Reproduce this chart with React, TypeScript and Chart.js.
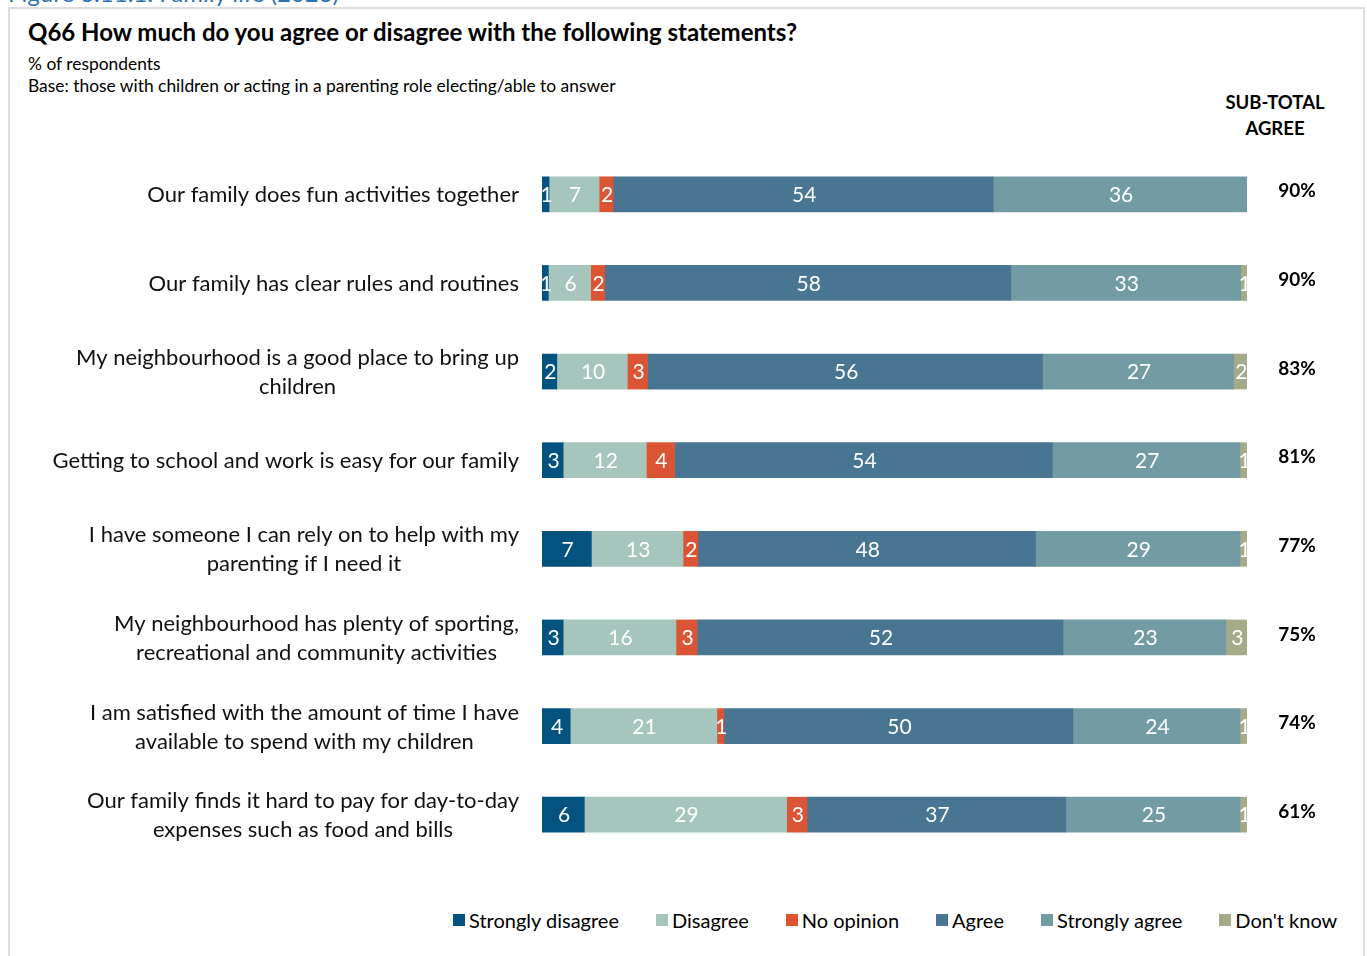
import React, { useEffect, useRef } from "react";
import { Chart, registerables } from "chart.js";

Chart.register(...registerables);

const categories: string[][] = [
  ["Our family does fun activities together"],
  ["Our family has clear rules and routines"],
  ["My neighbourhood is a good place to bring up", "children"],
  ["Getting to school and work is easy for our family"],
  ["I have someone I can rely on to help with my", "parenting if I need it"],
  ["My neighbourhood has plenty of sporting,", "recreational and community activities"],
  ["I am satisfied with the amount of time I have", "available to spend with my children"],
  ["Our family finds it hard to pay for day-to-day", "expenses such as food and bills"],
];

const seriesNames = ["Strongly disagree", "Disagree", "No opinion", "Agree", "Strongly agree", "Don't know"];
const seriesColors = ["#03527f", "#a5c5bd", "#db5535", "#487591", "#739ba3", "#a4ab88"];

const stronglyDisagree = [1.0, 0.9, 2.1, 3.0, 7.0, 3.0, 4.0, 6.0];
const disagree = [7.1, 6.0, 10.0, 11.8, 13.0, 16.0, 20.8, 28.7];
const noOpinion = [2.0, 2.0, 2.9, 4.0, 2.1, 3.0, 1.0, 2.9];
const agree = [53.9, 57.6, 56.0, 53.6, 47.9, 51.9, 49.5, 36.7];
const stronglyAgree = [36.0, 32.6, 27.1, 26.6, 29.0, 23.1, 23.7, 24.7];
const dontKnow = [0, 0.9, 1.9, 1.0, 1.0, 3.0, 1.0, 1.0];

const subTotalAgree = ["90%", "90%", "83%", "81%", "77%", "75%", "74%", "61%"];

const FONT = "Lato, 'Noto Sans', sans-serif";

const labelPlugin = {
  id: "customLabels",
  afterDatasetsDraw(chart: any) {
    const ctx = chart.ctx;
    const area = chart.chartArea;
    const yScale = chart.scales.y;
    ctx.save();
    // values inside segments
    ctx.font = `21px ${FONT}`;
    ctx.fillStyle = "#ffffff";
    ctx.textAlign = "center";
    ctx.textBaseline = "middle";
    chart.data.datasets.forEach((ds: any, di: number) => {
      const meta = chart.getDatasetMeta(di);
      meta.data.forEach((bar: any, i: number) => {
        const v = ds.data[i];
        if (!v) return;
        const p = bar.getProps(["x", "y", "base"], true);
        ctx.fillText(String(Math.round(v)), (p.x + p.base) / 2 + 1, p.y + 1);
      });
    });
    // category labels
    ctx.fillStyle = "#111111";
    ctx.font = `22px ${FONT}`;
    const rightEdge = area.left - 23;
    const lineH = 29;
    categories.forEach((lines, i) => {
      const cy = yScale.getPixelForValue(i);
      if (lines.length === 1) {
        ctx.textAlign = "right";
        ctx.fillText(lines[0], rightEdge, cy + 1);
      } else {
        const maxW = Math.max(...lines.map((l) => ctx.measureText(l).width));
        const cx = rightEdge - maxW / 2;
        ctx.textAlign = "center";
        lines.forEach((l, k) => {
          ctx.fillText(l, cx, cy + 1 + (k - (lines.length - 1) / 2) * lineH);
        });
      }
    });
    // sub-total labels
    ctx.font = `bold 19px ${FONT}`;
    ctx.fillStyle = "#000000";
    ctx.textAlign = "center";
    subTotalAgree.forEach((t, i) => {
      const cy = yScale.getPixelForValue(i);
      ctx.fillText(t, area.right + 50, cy - 3);
    });
    ctx.restore();
  },
};

export default function App() {
  const canvasRef = useRef<HTMLCanvasElement | null>(null);

  useEffect(() => {
    if (!canvasRef.current) return;
    const dataArrays = [stronglyDisagree, disagree, noOpinion, agree, stronglyAgree, dontKnow];
    const chart = new Chart(canvasRef.current, {
      type: "bar",
      data: {
        labels: categories.map((c) => c.join(" ")),
        datasets: dataArrays.map((d, i) => ({
          label: seriesNames[i],
          data: d,
          backgroundColor: seriesColors[i],
          borderWidth: 0,
          barThickness: 35,
        })),
      },
      options: {
        indexAxis: "y",
        responsive: false,
        animation: false,
        layout: { padding: { left: 542, right: 120, top: 10, bottom: 21 } },
        scales: {
          x: { stacked: true, min: 0, max: 100, display: false },
          y: { stacked: true, display: false },
        },
        plugins: {
          legend: { display: false },
          tooltip: { enabled: false },
          title: { display: false },
        },
      },
      plugins: [labelPlugin],
    });
    return () => chart.destroy();
  }, []);

  return (
    <div
      style={{
        position: "absolute",
        left: 0,
        top: 0,
        width: 1367,
        height: 956,
        overflow: "hidden",
        background: "#ffffff",
        fontFamily: FONT,
        color: "#000",
      }}
    >
      <div style={{ position: "absolute", left: 8, top: -22, fontSize: 24, color: "#2e74b5", whiteSpace: "nowrap" }}>
        Figure 3.11.1: Family life (2023)
      </div>
      <div
        style={{
          position: "absolute",
          left: 8,
          top: 7,
          width: 1357,
          height: 1000,
          boxSizing: "border-box",
          border: "2px solid #dddddd",
          background: "#ffffff",
        }}
      />
      <div style={{ position: "absolute", left: 28, top: 17, fontSize: 24, fontWeight: "bold", whiteSpace: "nowrap" }}>
        Q66 How much do you agree or disagree with the following statements?
      </div>
      <div style={{ position: "absolute", left: 28, top: 53, fontSize: 17.4, whiteSpace: "nowrap" }}>% of respondents</div>
      <div style={{ position: "absolute", left: 28, top: 75, fontSize: 17.4, whiteSpace: "nowrap" }}>
        Base: those with children or acting in a parenting role electing/able to answer
      </div>
      <div
        style={{
          position: "absolute",
          left: 1215,
          top: 89,
          width: 120,
          textAlign: "center",
          fontSize: 18.5,
          fontWeight: "bold",
          lineHeight: "26px",
        }}
      >
        SUB-TOTAL
        <br />
        AGREE
      </div>
      <canvas ref={canvasRef} width={1367} height={740} style={{ position: "absolute", left: 0, top: 140 }} />
      <div
        style={{
          position: "absolute",
          left: 453,
          top: 908,
          display: "flex",
          alignItems: "center",
          gap: 37,
          fontSize: 20,
          whiteSpace: "nowrap",
        }}
      >
        {seriesNames.map((n, i) => (
          <div key={n} style={{ display: "flex", alignItems: "center" }}>
            <span style={{ display: "inline-block", width: 12, height: 12, background: seriesColors[i], marginRight: 4 }} />
            <span>{n}</span>
          </div>
        ))}
      </div>
    </div>
  );
}
